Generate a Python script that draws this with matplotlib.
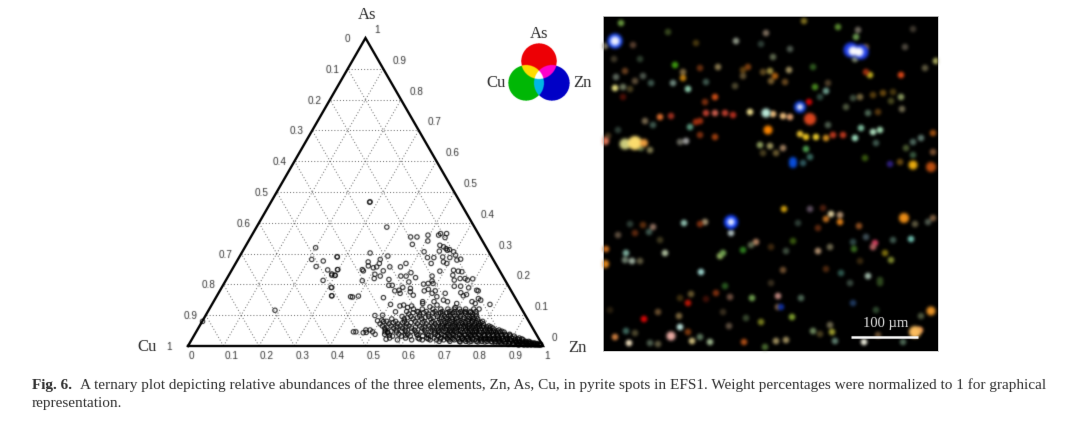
import numpy as np
import matplotlib
matplotlib.use('Agg')
import matplotlib.pyplot as plt

# pyrite spots (weight fractions)
as_sparse = [.467, .386, .354, .354, .330, .360, .341, .365, .365, .360,
             .352, .327, .322, .316, .311, .313, .308, .306, .306, .302,
             .289, .292, .287, .287, .289, .287, .295, .273, .260, .254,
             .281, .268, .257, .268, .257, .257, .268, .273, .268, .279,
             .282, .243, .248, .244, .233, .244, .227, .219, .248, .230,
             .230, .212, .227, .227, .238, .222, .227, .211, .246, .243,
             .241, .230, .214, .219, .219, .218, .214, .216, .197, .197,
             .208, .201, .203, .203, .194, .194, .189, .181, .179, .190,
             .179, .181, .190, .187, .176, .171, .179, .184, .179, .165,
             .163, .159, .162, .157, .171, .173, .167, .163, .160, .171,
             .144, .138, .144, .149, .144, .144, .154, .149, .138, .135,
             .135, .130, .133, .130, .125, .111, .138, .125, .127, .133,
             .111, .046, .046, .043, .052, .044, .052, .046, .038, .099,
             .100, .084, .082, .079, .046, .043, .022, .319, .281, .258,
             .276, .290, .247, .234, .229, .248, .213, .190, .163, .116,
             .080, .160, .468]
zn_sparse = [.278, .367, .450, .468, .467, .496, .505, .529, .546, .526,
             .548, .546, .559, .569, .575, .580, .554, .595, .512, .362,
             .276, .417, .531, .549, .573, .594, .606, .371, .378, .395,
             .401, .405, .403, .480, .470, .440, .551, .583, .595, .618,
             .627, .588, .367, .372, .410, .428, .428, .415, .297, .290,
             .299, .385, .486, .501, .509, .530, .574, .582, .625, .640,
             .651, .631, .643, .657, .671, .693, .680, .458, .467, .477,
             .518, .563, .575, .589, .653, .671, .696, .723, .728, .310,
             .493, .504, .510, .533, .538, .512, .576, .585, .607, .552,
             .323, .384, .399, .472, .639, .682, .701, .694, .621, .602,
             .589, .592, .621, .645, .659, .728, .741, .750, .740, .783,
             .503, .532, .541, .565, .556, .529, .688, .690, .618, .635,
             .593, .443, .450, .472, .475, .480, .487, .497, .508, .477,
             .498, .504, .493, .511, .532, .541, .547, .200, .208, .232,
             .243, .275, .270, .288, .300, .298, .274, .308, .324, .187,
             .001, .378, .279]

# dense band near the Zn corner, one As level per row
as_rows = [.003, .006, .008, .010, .013, .015, .020, .023, .026, .032,
           .035, .038, .045, .048, .052, .058, .062, .065, .072, .076,
           .080, .088, .092, .096, .104, .108, .112, .120]
zn_rows = [
    [.93, .945, .955, .965, .975, .982, .988, .992],
    [.90, .915, .927, .94, .951, .958, .966, .972, .980, .986, .990],
    [.88, .897, .912, .925, .937, .949, .96, .968, .975, .98],
    [.86, .875, .89, .90, .91, .92, .93, .94, .945, .955, .962, .97],
    [.76, .785, .81, .83, .85, .867, .884, .90, .918, .93, .947, .957],
    [.70, .73, .757, .775, .79, .805, .82, .835, .846, .858, .87, .88, .893, .905, .915, .925, .935, .943, .952],
    [.58, .62, .65, .672, .69, .71, .725, .74, .752, .768, .78, .793, .806, .815, .828, .84, .852, .866, .878, .889, .90, .912, .923, .934],
    [.64, .665, .70, .72, .735, .76, .773, .79, .81, .822, .834, .847, .86, .874, .883, .894, .906, .917, .929],
    [.555, .60, .635, .66, .68, .70, .716, .731, .747, .76, .775, .788, .80, .812, .825, .838, .85, .862, .873, .885, .897, .908, .92],
    [.56, .585, .61, .645, .668, .69, .71, .722, .738, .755, .77, .783, .795, .808, .82, .833, .845, .858, .869, .88, .892, .903],
    [.55, .595, .63, .66, .685, .705, .73, .748, .763, .778, .79, .803, .817, .829, .842, .854, .866, .877, .89],
    [.535, .575, .6, .625, .655, .677, .695, .713, .727, .745, .76, .772, .787, .80, .815, .826, .84, .85, .863, .875, .887],
    [.54, .565, .592, .62, .648, .672, .687, .705, .72, .735, .75, .766, .779, .79, .805, .82, .832, .845, .857, .868],
    [.548, .578, .606, .634, .66, .68, .697, .712, .727, .743, .757, .77, .783, .797, .81, .824, .836, .848, .86],
    [.53, .56, .585, .612, .64, .662, .68, .70, .715, .73, .742, .758, .772, .785, .798, .812, .825, .838, .85],
    [.525, .55, .575, .60, .63, .655, .675, .692, .708, .725, .74, .752, .765, .78, .793, .805, .82, .83],
    [.53, .558, .583, .61, .637, .66, .681, .697, .713, .729, .745, .756, .77, .784, .797, .81, .822],
    [.515, .54, .565, .59, .62, .645, .668, .685, .70, .718, .733, .748, .76, .775, .788, .80, .815],
    [.505, .53, .555, .58, .61, .635, .66, .68, .695, .71, .725, .738, .755, .77, .783, .796],
    [.54, .567, .59, .622, .648, .667, .686, .7, .716, .731, .744, .76, .774, .787],
    [.52, .545, .57, .60, .625, .65, .672, .69, .705, .72, .735, .75, .762, .778, .79],
    [.53, .565, .59, .615, .64, .665, .683, .70, .712, .73, .745, .758, .772],
    [.572, .6, .622, .645, .668, .683, .697, .713, .732, .748, .76],
    [.555, .58, .605, .63, .655, .675, .69, .705, .72, .74, .752, .765],
    [.57, .60, .625, .648, .665, .685, .70, .718, .73, .748, .76],
    [.58, .61, .636, .657, .676, .692, .709, .726, .742],
    [.56, .59, .615, .64, .66, .68, .695, .712, .725, .74, .755],
    [.575, .60, .63, .652, .672, .69, .705, .722, .745, .76],
]

tick_vals = [0, .1, .2, .3, .4, .5, .6, .7, .8, .9, 1]
tick_labels = ['0', '0.1', '0.2', '0.3', '0.4', '0.5', '0.6', '0.7', '0.8', '0.9', '1']

# element map, small spots (position across / down the map)
spot_x = [18, 65, 133, 93, 30, 2, 163, 201, 235, 253,
          255, 252, 263, 302, 310, 333, 298, 267, 263, 322,
          72, 97, 80, 80, 115, 12, 20, 27, 13, 40,
          32, 48, 70, 85, 103, 22, 37, 11, 112, 20,
          102, 140, 145, 167, 160, 172, 186, 168, 182, 140,
          132, 170, 187, 158, 210, 212, 223, 225, 206, 217,
          280, 270, 290, 298, 257, 250, 288, 243, 275, 299,
          265, 225, 258, 270, 277, 252, 330, 318, 310, 273,
          303, 330, 310, 262, 287, 297, 83, 77, 112, 97,
          87, 50, 42, 15, 5, 160, 173, 203, 200, 207,
          47, 38, 57, 68, 97, 103, 112, 122, 130, 93,
          157, 167, 180, 147, 170, 180, 187, 197, 203, 213,
          223, 230, 240, 128, 81, 50, 102, 97, 40, 27,
          15, 32, 46, 3, 23, 22, 29, 37, 62, 57,
          117, 120, 140, 153, 148, 98, 180, 223, 238, 265,
          277, 181, 207, 220, 228, 237, 223, 237, 256, 215,
          312, 325, 330, 308, 290, 272, 263, 250, 270, 215,
          227, 251, 282, 288, 257, 190, 195, 168, 183, 122,
          168, 247, 277, 77, 88, 113, 103, 127, 85, 149,
          175, 198, 250, 175, 178, 41, 55, 76, 7, 120,
          143, 158, 189, 227, 273, 318, 77, 85, 12, 26,
          23, 32, 47, 55, 89, 97, 107, 126, 141, 162,
          173, 183, 210, 229, 217, 232, 261, 275, 300, 317]
spot_y = [7, 16, 25, 27, 29, 30, 17, 5, 11, 21,
          14, 43, 31, 31, 13, 45, 59, 59, 56, 52,
          49, 52, 62, 56, 51, 72, 71, 73, 61, 60,
          65, 67, 67, 73, 66, 55, 43, 43, 81, 81,
          86, 54, 51, 55, 56, 60, 54, 65, 66, 60,
          70, 41, 33, 28, 51, 71, 75, 67, 86, 81,
          77, 79, 76, 81, 81, 82, 85, 91, 96, 93,
          97, 109, 112, 116, 114, 122, 117, 122, 126, 127,
          132, 136, 139, 142, 148, 146, 125, 126, 121, 119,
          111, 109, 105, 114, 120, 137, 137, 133, 147, 141,
          134, 132, 101, 100, 105, 97, 97, 97, 99, 106,
          129, 130, 132, 96, 98, 100, 101, 118, 121, 121,
          122, 119, 119, 217, 207, 211, 206, 208, 209, 208,
          219, 217, 216, 233, 237, 244, 245, 245, 237, 224,
          240, 237, 234, 226, 229, 256, 254, 253, 257, 260,
          264, 193, 193, 192, 198, 199, 203, 206, 210, 212,
          208, 206, 202, 223, 224, 227, 221, 226, 231, 235,
          231, 233, 237, 244, 245, 225, 207, 231, 235, 270,
          267, 267, 267, 282, 278, 277, 283, 281, 287, 282,
          280, 282, 287, 291, 291, 303, 296, 300, 294, 296,
          302, 306, 301, 309, 294, 300, 311, 316, 321, 327,
          315, 317, 327, 328, 325, 321, 326, 310, 326, 331,
          325, 324, 315, 316, 318, 325, 326, 319, 326, 314]
spot_color = ['#6a9a40', '#3a4a20', '#909888', '#4a3a10', '#5a4030', '#807860', '#807060', '#807020', '#5a8a30', '#6a9a50',
              '#706a60', '#808a70', '#6a5030', '#504a40', '#403a30', '#b0b060', '#e04818', '#c0b020', '#a03010', '#605a40',
              '#40a010', '#6a3010', '#c08010', '#806a40', '#8a7a50', '#e8e080', '#707a60', '#4a4020', '#606a60', '#505a50',
              '#60503a', '#405a50', '#708a80', '#90d0b0', '#405a50', '#6a4020', '#304030', '#403a2a', '#d05018', '#501008',
              '#803010', '#604010', '#804010', '#a09040', '#604a20', '#b06010', '#a09060', '#7a6030', '#6a4a20', '#605030',
              '#504a30', '#606a50', '#505a50', '#304038', '#305a20', '#4a8a20', '#70a090', '#50402a', '#d00808', '#304a40',
              '#6a4a10', '#5a4010', '#4a3a10', '#8a9a60', '#7a6a40', '#405040', '#4a4a20', '#505a40', '#5a3a10', '#706a50',
              '#506a58', '#506050', '#80c0a0', '#b0e0c0', '#a0d8b0', '#a0e0c0', '#a05010', '#607a70', '#506a60', '#405a50',
              '#4a5a30', '#7a5030', '#3a5a40', '#3a5a10', '#302080', '#6a4a10', '#a0a0a0', '#6a6a60', '#a04010', '#803010',
              '#5a9a80', '#405a50', '#7a6a50', '#304038', '#4a3a20', '#4a4020', '#6a5a30', '#50a050', '#305a60', '#3a6a60',
              '#807a50', '#5a6a40', '#e07030', '#a03020', '#a03010', '#c04030', '#d06050', '#c04030', '#b83020', '#a03010',
              '#90a060', '#a09860', '#a08060', '#f0e090', '#f0c080', '#f0c080', '#e0a070', '#e8c030', '#f0c820', '#f0d030',
              '#d09020', '#c03a20', '#c03a20', '#b0c0c0', '#90c0b0', '#907060', '#a09070', '#803010', '#603010', '#304038',
              '#605040', '#602a10', '#405a50', '#d07020', '#80b0a0', '#708070', '#a0b0a0', '#605a40', '#b0c0a0', '#403a20',
              '#90b060', '#70a050', '#308020', '#b08060', '#606a50', '#a0d8d0', '#705030', '#502a10', '#305a50', '#a0b8a8',
              '#304a20', '#d0a010', '#605060', '#502010', '#e0d0a0', '#b09070', '#c07020', '#e08018', '#905020', '#602a10',
              '#605a40', '#505a50', '#806040', '#70c0b0', '#405a50', '#d04060', '#405058', '#304a48', '#b06060', '#b09070',
              '#706a50', '#3a6a20', '#807010', '#808a30', '#3a2a10', '#3a5a10', '#304038', '#402a10', '#405040', '#2a5a20',
              '#3a3020', '#3a4a40', '#304a20', '#403010', '#6a5a30', '#803010', '#401008', '#705040', '#c01808', '#70a050',
              '#c08880', '#506a58', '#203a60', '#806040', '#1030a0', '#e00808', '#6a5030', '#806a40', '#2a2010', '#3a3020',
              '#3a4a30', '#7a8020', '#80a030', '#706a50', '#304a30', '#505a40', '#c0e8e0', '#803a10', '#d08040', '#f0e0c0',
              '#406a60', '#504a30', '#506050', '#605a40', '#d0c080', '#607a60', '#a0b890', '#605040', '#b05018', '#4a6a30',
              '#a09060', '#a09060', '#708a60', '#a0a030', '#4a4020', '#608070', '#f0f0e0', '#6a5030', '#506a58', '#e09050']

# bright grains, drawn after the small spots
big_x = [12, 12, 248, 258, 250, 256, 197, 197, 190, 190,
         22, 32, 41, 2, 207, 165, 163, 310, 328, 128,
         128, 301, 328, 68, 312, 2]
big_y = [25, 25, 34, 36, 35, 36, 91, 91, 145, 148,
         128, 127, 127, 125, 103, 114, 97, 149, 151, 206,
         206, 202, 295, 320, 316, 248]
big_d = [15, 9, 15, 15, 9, 9, 12, 6, 8, 8,
         11, 14, 8, 8, 12, 9, 9, 9, 10, 14,
         7, 10, 9, 9, 12, 8]
big_color = ['#2050ff', '#f4f6ff', '#2040f0', '#2040f0', '#ffffff', '#ffffff', '#1040e0', '#f0f4ff', '#0a50e0', '#0a50e0',
             '#d0d080', '#ffe070', '#f0a040', '#f08060', '#e04820', '#ff8800', '#c0f0e0', '#f0b010', '#c05010', '#1040ff',
             '#f0f4ff', '#f09018', '#f09828', '#f0b0a8', '#ffc060', '#f09020']


def blur(sigma):
    r = int(3 * sigma) + 1
    k = np.exp(-0.5 * (np.arange(-r, r + 1) / sigma) ** 2)
    k = k / k.sum()

    def f(im, dpi):
        a = np.pad(im, [(r, r), (r, r), (0, 0)], 'constant')
        a[..., :3] *= a[..., 3:]
        for axis in (0, 1):
            a = np.apply_along_axis(lambda v: np.convolve(v, k, 'same'), axis, a)
        alpha = np.clip(a[..., 3:], 1e-4, 1)
        a[..., :3] = np.clip(a[..., :3] / alpha, 0, 1)
        a[..., 3] = np.clip(a[..., 3], 0, 1)
        return a, -r, -r
    return f


fig = plt.figure(figsize=(10.8, 4.32), dpi=100)
soft = blur(0.45)

# full figure layer in pixels for the caption and the colour key
bg = fig.add_axes([0, 0, 1, 1])
bg.set_xlim(0, 1080)
bg.set_ylim(432, 0)
bg.axis('off')

# ternary plot
ax = fig.add_axes([188 / 1080, (432 - 346) / 432, 355 / 1080, 308 / 432])
ax.set_xlim(0, 1)
ax.set_ylim(0, 1)
ax.axis('off')


def tern(zn, a):
    return zn + a / 2, a


for v in tick_vals[1:-1]:
    for p, q in [((0, v), (1 - v, v)), ((v, 0), (v, 1 - v)), ((1 - v, 0), (0, 1 - v))]:
        x0, y0 = tern(*p)
        x1, y1 = tern(*q)
        ax.plot([x0, x1], [y0, y1], color='#777777', lw=0.75, ls=(0, (1, 2)), agg_filter=soft)

ax.plot([0, 1, 0.5, 0], [0, 0, 1, 0], color='#000000', lw=1.7, clip_on=False,
        solid_joinstyle='miter', agg_filter=soft)

zn_dense = [z for row in zn_rows for z in row]
as_dense = [a for a, row in zip(as_rows, zn_rows) for z in row]
zn_all = np.array(zn_sparse + zn_dense)
as_all = np.array(as_sparse + as_dense)
px, py = tern(zn_all, as_all)
ax.scatter(px, py, s=10, facecolors='none', edgecolors='#000000', linewidths=0.8,
           alpha=0.85, clip_on=False, agg_filter=soft)

for v, lab in zip(tick_vals, tick_labels):
    kw = dict(textcoords='offset pixels', fontsize=7.2, color='#333333', va='center',
              family='Liberation Sans', agg_filter=soft)
    # bottom axis Zn, right axis As, left axis Cu
    ax.annotate(lab, tern(v, 0), xytext=(0.8, -10), ha='left', **kw)
    ax.annotate(lab, tern(1 - v, v), xytext=(9, 8), ha='left', **kw)
    dx = {'0': -15.5, '1': -16}.get(lab, -8.3)
    ax.annotate(lab, tern(0, 1 - v), xytext=(dx, -1), ha='right', **kw)

for s, x, y in [('As', 367, 15), ('Cu', 147, 347), ('Zn', 577, 348),
                ('As', 539, 34), ('Cu', 496, 83), ('Zn', 582, 83)]:
    bg.text(x, y, s, fontsize=12, family='Liberation Serif', color='#2a2a2a',
            ha='center', va='center', agg_filter=soft)

# colour key, three overlapping discs
gx, gy = np.meshgrid(np.linspace(505, 575, 280), np.linspace(40, 104, 256))
in_r = (gx - 539) ** 2 + (gy - 61) ** 2 < 18 ** 2
in_g = (gx - 526) ** 2 + (gy - 83) ** 2 < 18 ** 2
in_b = (gx - 552) ** 2 + (gy - 83) ** 2 < 18 ** 2
key = np.ones(gx.shape + (4,))
key[..., 3] = 0
key[in_r] = (0.93, 0, 0.02, 1)
key[in_g] = (0, 0.72, 0.02, 1)
key[in_b] = (0, 0, 0.78, 1)
key[in_r & in_g] = (1, 0.87, 0, 1)
key[in_r & in_b] = (1, 0, 0.8, 1)
key[in_g & in_b] = (0, 0.72, 0.9, 1)
key[in_r & in_g & in_b] = (1, 1, 1, 1)
bg.imshow(key, extent=(505, 575, 104, 40), aspect='auto', interpolation='bilinear', agg_filter=soft)
bg.set_xlim(0, 1080)
bg.set_ylim(432, 0)

# element map
mp = fig.add_axes([603 / 1080, (432 - 351) / 432, 335 / 1080, 335 / 432])
mp.set_facecolor('black')
mp.set_xlim(0, 335)
mp.set_ylim(335, 0)
mp.set_xticks([])
mp.set_yticks([])
for sp in mp.spines.values():
    sp.set_color('#c8c8c8')
    sp.set_linewidth(0.6)
mp.scatter(spot_x, spot_y, s=22, c=spot_color, linewidths=0, agg_filter=blur(1.1))
mp.scatter(big_x, big_y, s=(0.72 * np.array(big_d)) ** 2, c=big_color, linewidths=0, agg_filter=blur(1.2))
mp.plot([248, 315], [321, 321], color='white', lw=1.8, solid_capstyle='butt', agg_filter=soft)
mp.text(283, 308, '100 µm', color='#e8e8e8', fontsize=10.5, family='Liberation Serif',
        ha='center', va='center', agg_filter=soft)

# caption
cap = dict(fontsize=11, family='Liberation Serif', color='#2e2e2e', va='center', agg_filter=blur(0.4))
bg.text(32, 385, 'Fig. 6.', fontweight='bold', **cap)
bg.text(80, 385, 'A ternary plot depicting relative abundances of the three elements, Zn, As, Cu, '
        'in pyrite spots in EFS1. Weight percentages were normalized to 1 for graphical', **cap)
bg.text(32, 404, 'representation.', **cap)

fig.savefig('out.png', dpi=100)
